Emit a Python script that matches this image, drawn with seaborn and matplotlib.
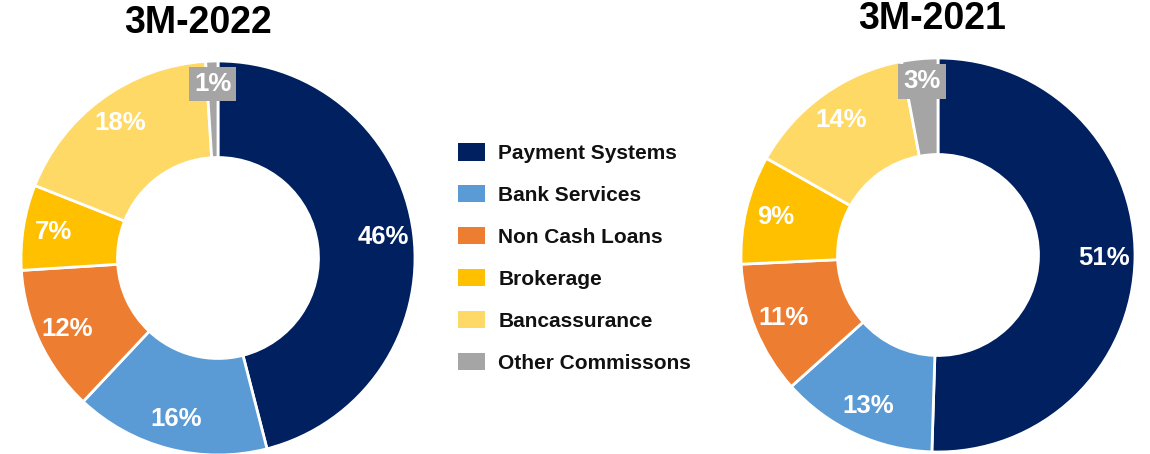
import matplotlib
matplotlib.use("Agg")
import matplotlib.pyplot as plt
import seaborn as sns
from matplotlib.patches import Patch
import numpy as np

categories = ["Payment Systems", "Bank Services", "Non Cash Loans", "Brokerage",
              "Bancassurance", "Other Commissons"]
values_2022 = [46, 16, 12, 7, 18, 1]
values_2021 = [51, 13, 11, 9, 14, 3]
titles = ["3M-2022", "3M-2021"]
colors = ["#002060", "#5B9BD5", "#ED7D31", "#FFC000", "#FFD966", "#A5A5A5"]

sns.set_theme(style="white")
plt.rcParams["font.family"] = ["Liberation Sans", "DejaVu Sans"]
palette = sns.color_palette(colors)

W, H = 1150, 454
fig = plt.figure(figsize=(W / 100, H / 100), dpi=100)
fig.patch.set_facecolor("white")

R = 197
specs = [
    (values_2022, (218, 258), (198, 23), titles[0]),
    (values_2021, (938, 255), (932, 19), titles[1]),
]

for vals, (cx, cy), (tx, ty), title in specs:
    ax = fig.add_axes([(cx - R) / W, (H - cy - R) / H, 2 * R / W, 2 * R / H])
    wedges, _ = ax.pie(vals, colors=palette, startangle=90, counterclock=False,
                       radius=1.0,
                       wedgeprops=dict(width=0.49, edgecolor="white", linewidth=2))
    ax.set_xlim(-1, 1)
    ax.set_ylim(-1, 1)
    ax.set_aspect("equal")
    ax.axis("off")
    for i, (w, v) in enumerate(zip(wedges, vals)):
        ang = np.deg2rad((w.theta1 + w.theta2) / 2)
        last = i == len(vals) - 1
        r = 0.885 if last else 0.845
        kw = {}
        if last:
            kw["bbox"] = dict(boxstyle="square,pad=0.2", facecolor=colors[-1],
                              edgecolor="none")
        ax.text(r * np.cos(ang), r * np.sin(ang), f"{v}%", ha="center",
                va="center", color="white", fontsize=18.5, fontweight="bold", **kw)
    fig.text(tx / W, 1 - ty / H, title, ha="center", va="center",
             fontsize=27, fontweight="bold", color="black")

handles = [Patch(facecolor=c, edgecolor="none") for c in colors]
leg = fig.legend(handles, categories, loc="upper left",
                 bbox_to_anchor=(452 / W, 1 - 137 / H), frameon=False,
                 prop=dict(size=15, weight="bold"),
                 handlelength=1.3, handleheight=0.9, handletextpad=0.62,
                 labelspacing=1.06, borderaxespad=0, borderpad=0.3)
for t in leg.get_texts():
    t.set_color("#111111")

fig.savefig("out.png", dpi=100, facecolor="white")
